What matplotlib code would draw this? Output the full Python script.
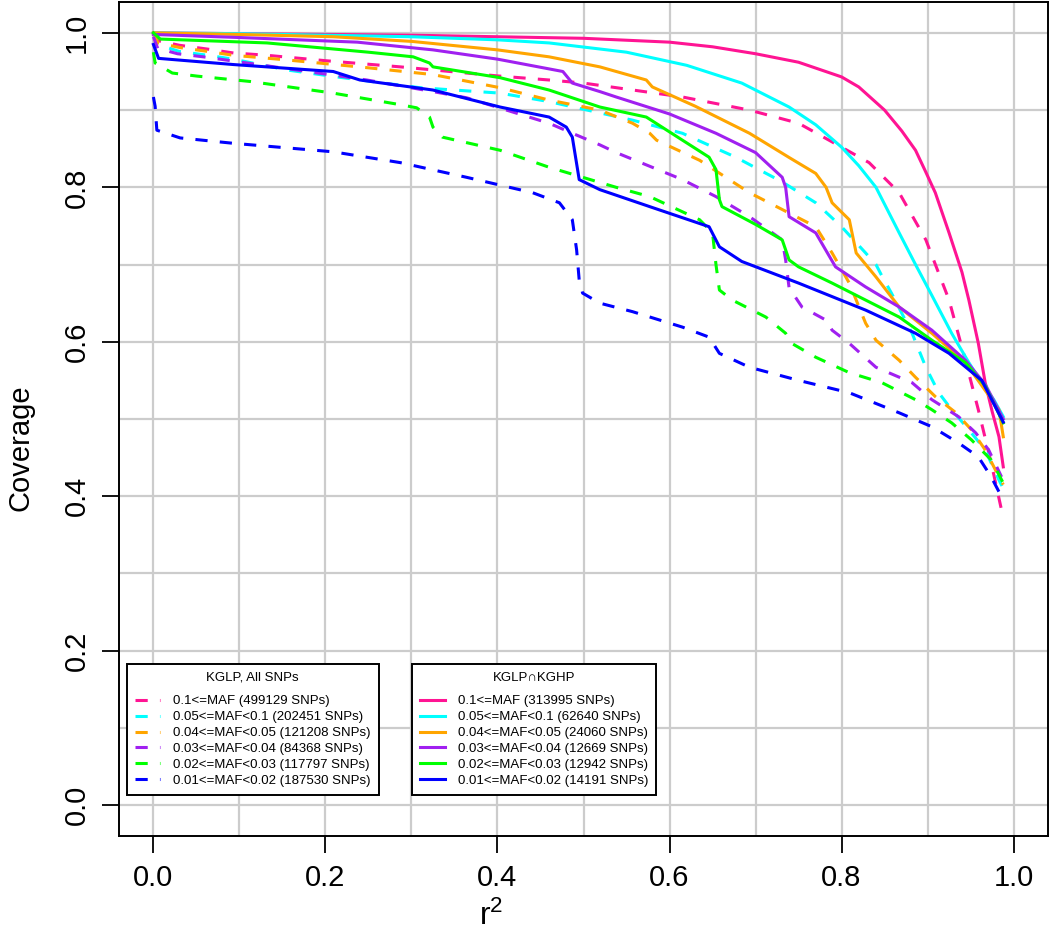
import matplotlib
matplotlib.use('Agg')
import matplotlib.pyplot as plt
import numpy as np

plt.rcParams['font.family'] = ['Liberation Sans', 'DejaVu Sans']
plt.rcParams['mathtext.default'] = 'regular'

# ------- Datos -------------------------------- #

# Curvas KGLP, todos los SNPs (lineas de trazos)
x_all_01 = [0, 0.005, 0.03, 0.063, 0.093, 0.132, 0.2, 0.287, 0.403, 0.46, 0.5, 0.615, 0.693, 0.75,
            0.80, 0.832, 0.867, 0.898, 0.925, 0.944, 0.959, 0.974, 0.986]
y_all_01 = [1.0, 0.99, 0.984, 0.979, 0.974, 0.971, 0.964, 0.956, 0.944, 0.939, 0.935, 0.917, 0.90, 0.883,
            0.852, 0.832, 0.793, 0.732, 0.654, 0.576, 0.512, 0.443, 0.382]

x_all_005 = [0, 0.005, 0.03, 0.063, 0.093, 0.155, 0.213, 0.31, 0.403, 0.46, 0.557, 0.615, 0.677, 0.731,
             0.77, 0.80, 0.828, 0.84, 0.847, 0.858, 0.882, 0.898, 0.913, 0.928, 0.948, 0.967, 0.983, 0.988]
y_all_005 = [1.0, 0.985, 0.976, 0.971, 0.966, 0.952, 0.943, 0.929, 0.922, 0.911, 0.887, 0.870, 0.839, 0.807,
             0.78, 0.749, 0.715, 0.70, 0.685, 0.663, 0.611, 0.567, 0.534, 0.512, 0.486, 0.46, 0.421, 0.41]

x_all_004 = [0, 0.005, 0.031, 0.063, 0.093, 0.155, 0.248, 0.325, 0.403, 0.46, 0.519, 0.557, 0.577, 0.585,
             0.635, 0.693, 0.77, 0.789, 0.809, 0.828, 0.84, 0.867, 0.886, 0.909, 0.933, 0.951, 0.967, 0.983, 0.988]
y_all_004 = [1.0, 0.987, 0.981, 0.976, 0.971, 0.965, 0.955, 0.946, 0.929, 0.913, 0.90, 0.883, 0.870, 0.861,
             0.835, 0.793, 0.749, 0.715, 0.676, 0.624, 0.602, 0.576, 0.554, 0.529, 0.508, 0.486, 0.46, 0.425, 0.415]

x_all_003 = [0, 0.005, 0.028, 0.058, 0.09, 0.248, 0.325, 0.364, 0.46, 0.487, 0.519, 0.538, 0.615, 0.654,
             0.693, 0.731, 0.735, 0.739, 0.754, 0.782, 0.789, 0.809, 0.84, 0.882, 0.905, 0.936, 0.956, 0.971, 0.986]
y_all_003 = [0.995, 0.98, 0.973, 0.969, 0.964, 0.939, 0.924, 0.916, 0.883, 0.870, 0.855, 0.845, 0.81, 0.788,
             0.762, 0.732, 0.706, 0.670, 0.645, 0.628, 0.615, 0.598, 0.567, 0.547, 0.525, 0.503, 0.482, 0.46, 0.425]

x_all_002 = [0, 0.002, 0.022, 0.051, 0.113, 0.209, 0.287, 0.306, 0.321, 0.325, 0.336, 0.403, 0.46, 0.538,
             0.577, 0.635, 0.65, 0.654, 0.658, 0.673, 0.712, 0.735, 0.742, 0.77, 0.809, 0.847, 0.886, 0.905,
             0.928, 0.951, 0.974, 0.988]
y_all_002 = [0.975, 0.961, 0.948, 0.944, 0.937, 0.922, 0.907, 0.903, 0.891, 0.878, 0.865, 0.848, 0.826, 0.80,
             0.788, 0.758, 0.741, 0.70, 0.667, 0.654, 0.632, 0.611, 0.598, 0.58, 0.56, 0.547, 0.525, 0.512,
             0.495, 0.473, 0.447, 0.417]

x_all_001 = [0, 0.002, 0.004, 0.031, 0.093, 0.209, 0.287, 0.364, 0.441, 0.472, 0.487, 0.492, 0.495, 0.499,
             0.519, 0.557, 0.615, 0.646, 0.658, 0.693, 0.75, 0.809, 0.867, 0.905, 0.936, 0.959, 0.974, 0.988]
y_all_001 = [0.917, 0.905, 0.874, 0.864, 0.857, 0.846, 0.832, 0.813, 0.793, 0.78, 0.758, 0.719, 0.680, 0.663,
             0.65, 0.639, 0.619, 0.606, 0.585, 0.567, 0.55, 0.534, 0.508, 0.49, 0.469, 0.451, 0.425, 0.395]

# Curvas KGLP interseccion KGHP (lineas solidas)
x_int_01 = [0, 0.1, 0.2, 0.3, 0.4, 0.5, 0.6, 0.65, 0.7, 0.75, 0.8, 0.82, 0.85, 0.87, 0.886, 0.897, 0.909,
            0.925, 0.94, 0.948, 0.959, 0.967, 0.975, 0.983, 0.988]
y_int_01 = [1.0, 0.999, 0.998, 0.997, 0.995, 0.993, 0.988, 0.982, 0.973, 0.962, 0.943, 0.93, 0.90, 0.873,
            0.848, 0.822, 0.793, 0.741, 0.69, 0.654, 0.598, 0.547, 0.51, 0.477, 0.438]

x_int_005 = [0, 0.1, 0.2, 0.3, 0.4, 0.46, 0.55, 0.62, 0.684, 0.739, 0.77, 0.80, 0.82, 0.84, 0.867, 0.886,
             0.905, 0.928, 0.948, 0.963, 0.977, 0.988]
y_int_005 = [1.0, 0.999, 0.997, 0.995, 0.991, 0.987, 0.975, 0.958, 0.935, 0.904, 0.881, 0.852, 0.828, 0.80,
             0.741, 0.70, 0.660, 0.611, 0.573, 0.547, 0.525, 0.503]

x_int_004 = [0, 0.1, 0.209, 0.3, 0.4, 0.46, 0.519, 0.573, 0.58, 0.63, 0.693, 0.74, 0.77, 0.782, 0.789, 0.809,
             0.817, 0.84, 0.867, 0.905, 0.944, 0.967, 0.983, 0.988]
y_int_004 = [1.0, 0.998, 0.995, 0.989, 0.978, 0.969, 0.956, 0.939, 0.93, 0.905, 0.870, 0.838, 0.818, 0.80,
             0.78, 0.758, 0.715, 0.684, 0.645, 0.611, 0.573, 0.537, 0.512, 0.477]

x_int_003 = [0, 0.1, 0.237, 0.325, 0.4, 0.476, 0.487, 0.519, 0.538, 0.6, 0.654, 0.70, 0.731, 0.735, 0.739,
             0.77, 0.793, 0.828, 0.867, 0.905, 0.944, 0.967, 0.988]
y_int_003 = [0.998, 0.994, 0.988, 0.978, 0.966, 0.950, 0.935, 0.924, 0.917, 0.895, 0.870, 0.845, 0.813, 0.80,
             0.762, 0.741, 0.697, 0.671, 0.645, 0.615, 0.576, 0.545, 0.50]

x_int_002 = [0, 0.008, 0.132, 0.25, 0.302, 0.321, 0.325, 0.403, 0.46, 0.519, 0.573, 0.646, 0.654, 0.658,
             0.661, 0.70, 0.731, 0.739, 0.75, 0.789, 0.828, 0.867, 0.905, 0.944, 0.967, 0.988]
y_int_002 = [1.0, 0.992, 0.987, 0.975, 0.969, 0.961, 0.956, 0.942, 0.926, 0.904, 0.891, 0.839, 0.823, 0.784,
             0.775, 0.752, 0.732, 0.706, 0.697, 0.676, 0.654, 0.632, 0.602, 0.573, 0.543, 0.495]

x_int_001 = [0, 0.006, 0.093, 0.209, 0.24, 0.325, 0.403, 0.46, 0.48, 0.487, 0.495, 0.519, 0.577, 0.646,
             0.658, 0.684, 0.75, 0.828, 0.886, 0.925, 0.963, 0.988]
y_int_001 = [0.985, 0.967, 0.959, 0.95, 0.939, 0.926, 0.904, 0.891, 0.878, 0.865, 0.81, 0.797, 0.775, 0.749,
             0.723, 0.704, 0.676, 0.641, 0.611, 0.585, 0.55, 0.496]

colores = ['#FF1493', '#00FFFF', '#FFA500', '#A020F0', '#00FF00', '#0000FF']

labels_all = ['0.1<=MAF (499129 SNPs)', '0.05<=MAF<0.1 (202451 SNPs)', '0.04<=MAF<0.05 (121208 SNPs)',
              '0.03<=MAF<0.04 (84368 SNPs)', '0.02<=MAF<0.03 (117797 SNPs)', '0.01<=MAF<0.02 (187530 SNPs)']
labels_int = ['0.1<=MAF (313995 SNPs)', '0.05<=MAF<0.1 (62640 SNPs)', '0.04<=MAF<0.05 (24060 SNPs)',
              '0.03<=MAF<0.04 (12669 SNPs)', '0.02<=MAF<0.03 (12942 SNPs)', '0.01<=MAF<0.02 (14191 SNPs)']

curvas_all = [(x_all_01, y_all_01), (x_all_005, y_all_005), (x_all_004, y_all_004),
              (x_all_003, y_all_003), (x_all_002, y_all_002), (x_all_001, y_all_001)]
curvas_int = [(x_int_01, y_int_01), (x_int_005, y_int_005), (x_int_004, y_int_004),
              (x_int_003, y_int_003), (x_int_002, y_int_002), (x_int_001, y_int_001)]

# ------- Grafico ------------- #

fig = plt.figure(figsize=(10.5, 9.33), dpi=100)
ax = fig.add_axes([119 / 1050, 1 - 836 / 933, 929 / 1050, 834 / 933])

lw = 2.2
h_all = []
for (x, y), c, lab in zip(curvas_all, colores, labels_all):
    l, = ax.plot(x, y, color=c, lw=lw, dashes=(4, 4), label=lab)
    h_all.append(l)
h_int = []
for (x, y), c, lab in zip(curvas_int, colores, labels_int):
    l, = ax.plot(x, y, color=c, lw=lw, label=lab)
    h_int.append(l)

ax.set_xlim(-0.04, 1.04)
ax.set_ylim(-0.04, 1.04)
ax.set_xticks(np.arange(0, 1.01, 0.2))
ax.set_yticks(np.arange(0, 1.01, 0.2))
ax.set_xticks(np.arange(0, 1.01, 0.1), minor=True)
ax.set_yticks(np.arange(0, 1.01, 0.1), minor=True)
ax.set_xticklabels(['0.0', '0.2', '0.4', '0.6', '0.8', '1.0'])
ax.set_yticklabels(['0.0', '0.2', '0.4', '0.6', '0.8', '1.0'], rotation=90, va='center')
ax.grid(True, which='both', color='#cccccc', lw=1.6, zorder=0)
ax.set_axisbelow(True)
ax.tick_params(which='major', length=12, width=1.3, labelsize=21, pad=8)
ax.tick_params(which='minor', length=0)
for s in ax.spines.values():
    s.set_linewidth(1.4)

fig.text(21 / 1050, 1 - 448 / 933, 'Coverage', rotation=90, ha='center', va='center', fontsize=21)
fig.text(491 / 1050, 1 - 932 / 933, 'r$^2$', ha='center', va='bottom', fontsize=23)

leg_kw = dict(loc='upper left', fontsize=9.5, title_fontsize=9.5, fancybox=False, framealpha=1,
              edgecolor='black', borderaxespad=0, labelspacing=0.28, handlelength=1.9, handletextpad=1.0,
              borderpad=0.6)
leg1 = ax.legend(handles=h_all, title='KGLP, All SNPs', bbox_to_anchor=(0.0086, 0.2062), **leg_kw)
leg1.get_frame().set_linewidth(1.4)
leg1._legend_box.sep = 8
ax.add_artist(leg1)
leg2 = ax.legend(handles=h_int, title='KGLP\u2229KGHP', bbox_to_anchor=(0.3154, 0.2062), **leg_kw)
leg2.get_frame().set_linewidth(1.4)
leg2._legend_box.sep = 8

fig.savefig('out.png', dpi=100)
